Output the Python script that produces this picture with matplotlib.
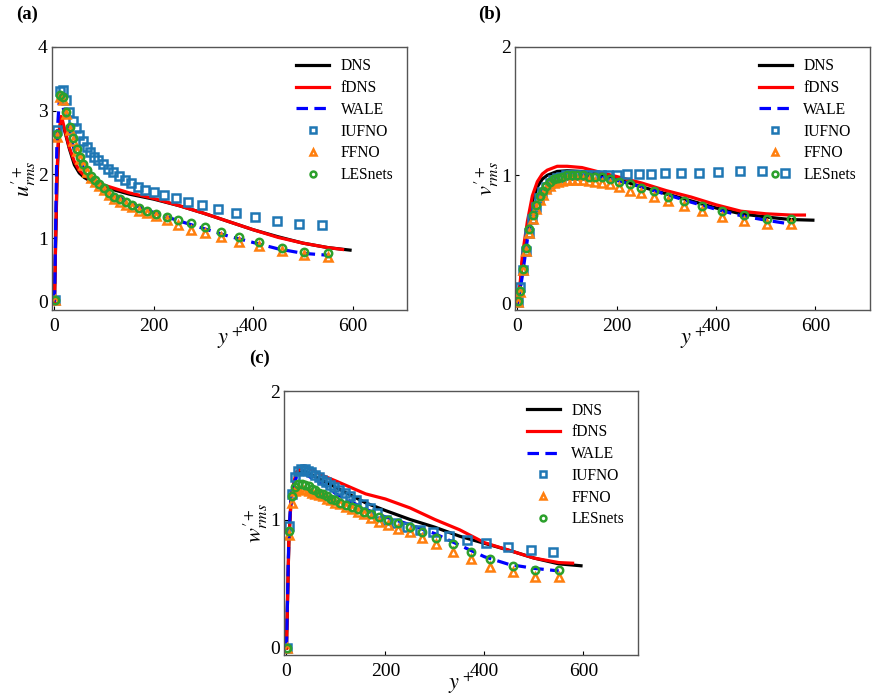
import numpy as np
import matplotlib.pyplot as plt

plt.rcParams['font.family'] = ['Liberation Serif', 'DejaVu Serif']
plt.rcParams['mathtext.fontset'] = 'stix'

# ---- LES sample points (y+) ----
yp_les = [1, 6, 12, 18, 24, 31, 38, 45, 51, 58, 66, 73, 81, 90, 99, 109, 120, 132,
          144, 157, 171, 187, 205, 226, 249, 274, 303, 336, 372, 412, 457, 503, 550]
# IUFNO uses its own friction velocity, so its y+ points sit slightly lower
yp_iufno = [1, 6, 12, 18, 24, 30, 37, 44, 50, 57, 65, 72, 79, 88, 97, 107, 118, 129,
            141, 154, 168, 183, 201, 221, 244, 269, 297, 329, 365, 404, 448, 493, 539]

# ---- (a) u'rms ----
u_dns_y = [0, 2, 5, 8, 12, 15, 20, 30, 40, 50, 60, 80, 100, 150, 200, 250, 300, 350, 400, 450, 500, 550, 595]
u_dns = [0, 0.8, 1.9, 2.5, 2.75, 2.82, 2.7, 2.4, 2.15, 2.02, 1.95, 1.86, 1.8, 1.69, 1.61, 1.51,
         1.39, 1.26, 1.13, 1.02, 0.92, 0.85, 0.81]
u_fdns_y = [0, 2, 5, 8, 13, 16, 20, 30, 40, 50, 60, 80, 100, 150, 200, 250, 300, 350, 400, 450, 500, 550, 580]
u_fdns = [0, 0.85, 2.0, 2.6, 2.91, 2.85, 2.72, 2.42, 2.2, 2.06, 1.98, 1.89, 1.83, 1.71, 1.62, 1.51,
          1.39, 1.26, 1.13, 1.01, 0.92, 0.85, 0.82]
u_wale_y = [0, 2, 5, 10, 15, 20, 30, 40, 50, 60, 80, 100, 150, 200, 250, 300, 350, 400, 450, 500, 550]
u_wale = [0, 1.0, 2.6, 3.2, 3.15, 2.95, 2.65, 2.38, 2.2, 2.08, 1.9, 1.77, 1.55, 1.4, 1.27,
          1.15, 1.03, 0.93, 0.83, 0.76, 0.73]
u_iufno = [0.03, 2.70, 3.31, 3.32, 3.16, 2.98, 2.84, 2.73, 2.61, 2.53, 2.43, 2.35, 2.28, 2.22,
           2.16, 2.09, 2.03, 1.97, 1.91, 1.86, 1.80, 1.76, 1.72, 1.67, 1.63, 1.57, 1.52, 1.46,
           1.40, 1.33, 1.27, 1.22, 1.21]
u_ffno = [0.02, 2.58, 3.22, 3.17, 2.95, 2.70, 2.53, 2.37, 2.24, 2.14, 2.04, 1.95, 1.88, 1.82,
          1.75, 1.68, 1.62, 1.57, 1.52, 1.48, 1.43, 1.39, 1.35, 1.28, 1.21, 1.13, 1.08, 1.01,
          0.93, 0.88, 0.80, 0.73, 0.70]
u_lesnets = [0.03, 2.63, 3.25, 3.21, 2.98, 2.74, 2.57, 2.40, 2.27, 2.17, 2.07, 1.98, 1.91, 1.85,
             1.78, 1.71, 1.65, 1.61, 1.56, 1.52, 1.47, 1.43, 1.38, 1.33, 1.28, 1.23, 1.17, 1.10,
             1.01, 0.93, 0.85, 0.78, 0.77]

# ---- (b) v'rms ----
v_dns_y = [0, 5, 10, 20, 30, 40, 50, 60, 80, 100, 130, 160, 200, 250, 300, 350, 400, 450, 500, 550, 595]
v_dns = [0, 0.12, 0.33, 0.6, 0.8, 0.91, 0.97, 1.0, 1.03, 1.035, 1.03, 1.01, 0.97, 0.91, 0.855,
         0.8, 0.745, 0.70, 0.675, 0.655, 0.65]
v_fdns_y = [0, 5, 10, 20, 30, 40, 50, 60, 80, 100, 130, 160, 200, 250, 300, 350, 400, 450, 500, 550, 578]
v_fdns = [0, 0.14, 0.38, 0.64, 0.84, 0.95, 1.01, 1.04, 1.07, 1.07, 1.06, 1.03, 0.99, 0.94, 0.88,
          0.83, 0.77, 0.72, 0.70, 0.69, 0.69]
v_wale_y = [0, 5, 10, 20, 30, 40, 50, 60, 80, 100, 130, 160, 200, 250, 300, 350, 400, 450, 500, 550]
v_wale = [0, 0.1, 0.22, 0.5, 0.68, 0.8, 0.88, 0.93, 0.98, 1.0, 1.0, 0.99, 0.96, 0.91, 0.85,
          0.79, 0.735, 0.685, 0.65, 0.62]
v_iufno = [0.01, 0.13, 0.26, 0.41, 0.55, 0.66, 0.75, 0.82, 0.87, 0.91, 0.94, 0.96, 0.98, 0.99,
           1.0, 1.0, 1.0, 1.0, 1.0, 1.0, 1.0, 1.005, 1.005, 1.01, 1.01, 1.01, 1.015, 1.02, 1.02,
           1.025, 1.035, 1.03, 1.02]
v_ffno = [0.01, 0.09, 0.26, 0.41, 0.55, 0.66, 0.74, 0.81, 0.85, 0.89, 0.92, 0.94, 0.95, 0.955,
          0.96, 0.96, 0.96, 0.96, 0.955, 0.95, 0.94, 0.93, 0.91, 0.88, 0.86, 0.83, 0.80, 0.76,
          0.72, 0.675, 0.645, 0.62, 0.62]
v_lesnets = [0.02, 0.10, 0.27, 0.43, 0.58, 0.69, 0.77, 0.84, 0.88, 0.92, 0.95, 0.97, 0.98, 0.99,
             1.0, 1.0, 1.0, 1.0, 0.99, 0.99, 0.985, 0.97, 0.95, 0.93, 0.90, 0.875, 0.83, 0.80,
             0.76, 0.72, 0.69, 0.66, 0.66]

# ---- (c) w'rms ----
w_dns_y = [0, 5, 10, 20, 35, 50, 75, 100, 130, 160, 200, 250, 300, 350, 400, 450, 500, 550, 595]
w_dns = [0, 0.85, 1.2, 1.35, 1.38, 1.35, 1.3, 1.25, 1.19, 1.13, 1.07, 1.0, 0.94, 0.87, 0.815,
         0.76, 0.70, 0.655, 0.64]
w_fdns_y = [0, 5, 10, 20, 35, 50, 75, 100, 130, 160, 200, 250, 300, 350, 400, 450, 500, 550, 578]
w_fdns = [0, 0.85, 1.2, 1.37, 1.42, 1.39, 1.34, 1.3, 1.25, 1.2, 1.16, 1.09, 1.0, 0.92, 0.82,
          0.76, 0.70, 0.665, 0.66]
w_wale_y = [0, 5, 10, 20, 30, 40, 60, 80, 100, 130, 160, 200, 250, 300, 350, 400, 450, 500, 550]
w_wale = [0, 0.9, 1.2, 1.33, 1.36, 1.35, 1.3, 1.26, 1.2, 1.14, 1.08, 1.02, 0.96, 0.89, 0.8,
          0.71, 0.65, 0.62, 0.6]
w_iufno = [0.0, 0.95, 1.2, 1.33, 1.38, 1.39, 1.39, 1.38, 1.37, 1.35, 1.33, 1.31, 1.29, 1.27,
           1.25, 1.23, 1.21, 1.18, 1.15, 1.12, 1.09, 1.05, 1.0, 0.97, 0.945, 0.92, 0.90, 0.87,
           0.84, 0.82, 0.79, 0.76, 0.75]
w_ffno = [0.0, 0.88, 1.13, 1.22, 1.24, 1.24, 1.23, 1.22, 1.21, 1.2, 1.19, 1.18, 1.16, 1.15,
          1.13, 1.12, 1.10, 1.08, 1.06, 1.04, 1.01, 0.98, 0.955, 0.925, 0.90, 0.855, 0.81,
          0.75, 0.69, 0.63, 0.59, 0.555, 0.555]
w_lesnets = [0.0, 0.91, 1.18, 1.25, 1.28, 1.28, 1.27, 1.26, 1.24, 1.23, 1.21, 1.20, 1.18, 1.16,
             1.15, 1.13, 1.11, 1.10, 1.08, 1.06, 1.04, 1.02, 1.0, 0.975, 0.94, 0.906, 0.86,
             0.81, 0.75, 0.69, 0.64, 0.61, 0.607]

panels = [
    ('(a)', r"$u^{\prime +}_{rms}$", [0, 1, 2, 3, 4], (-0.13, 4),
     (u_dns_y, u_dns), (u_fdns_y, u_fdns), (u_wale_y, u_wale), u_iufno, u_ffno, u_lesnets),
    ('(b)', r"$v^{\prime +}_{rms}$", [0, 1, 2], (-0.05, 2),
     (v_dns_y, v_dns), (v_fdns_y, v_fdns), (v_wale_y, v_wale), v_iufno, v_ffno, v_lesnets),
    ('(c)', r"$w^{\prime +}_{rms}$", [0, 1, 2], (-0.055, 2),
     (w_dns_y, w_dns), (w_fdns_y, w_fdns), (w_wale_y, w_wale), w_iufno, w_ffno, w_lesnets),
]
rects = [[0.0593, 0.5559, 0.405, 0.3768],
         [0.5872, 0.5559, 0.4048, 0.3768],
         [0.3238, 0.0616, 0.4036, 0.378]]

fig = plt.figure(figsize=(8.77, 6.98), dpi=100)

for rect, (tag, ylab, yt, ylim, dns, fdns, wale, iu, ff, le) in zip(rects, panels):
    ax = fig.add_axes(rect)
    ax.plot(dns[0], dns[1], color='black', lw=2.3, label='DNS')
    ax.plot(fdns[0], fdns[1], color='red', lw=2.3, label='fDNS')
    ax.plot(wale[0], wale[1], color='blue', lw=2.3, ls=(0, (3.6, 2.0)), label='WALE')
    ms = dict(ls='none', ms=5.3, mew=1.8, mfc='none')
    ax.plot(yp_iufno, iu, marker='s', color='#1f77b4', label='IUFNO', **ms)
    ax.plot(yp_les, ff, marker='^', color='#ff7f0e', label='FFNO', **ms)
    ax.plot(yp_les, le, marker='o', color='#2ca02c', label='LESnets', **ms)

    ax.set_xlim(-5, 710)
    ax.set_ylim(*ylim)
    ax.set_xticks([0, 200, 400, 600])
    ax.set_yticks(yt)
    ax.tick_params(direction='in', length=3, labelsize=14, top=False, right=False)
    ax.tick_params(axis='x', pad=6)
    ax.tick_params(axis='y', pad=3)
    for s in ax.spines.values():
        s.set_color('#555555')
        s.set_linewidth(1.0)
    ax.set_xlabel(r"$y^+$", fontsize=16, labelpad=-7)
    ax.set_ylabel(ylab, fontsize=16, labelpad=0)
    ax.legend(loc='upper right', bbox_to_anchor=(1.0, 1.01), frameon=False, fontsize=11.2,
              numpoints=1, markerscale=0.8, handlelength=2.1, handletextpad=0.75,
              labelspacing=0.37)
    ax.text(-0.07, 1.123, tag, transform=ax.transAxes, fontsize=13.5, fontweight='bold',
            ha='center', va='center')

fig.savefig('out.png', dpi=100)
